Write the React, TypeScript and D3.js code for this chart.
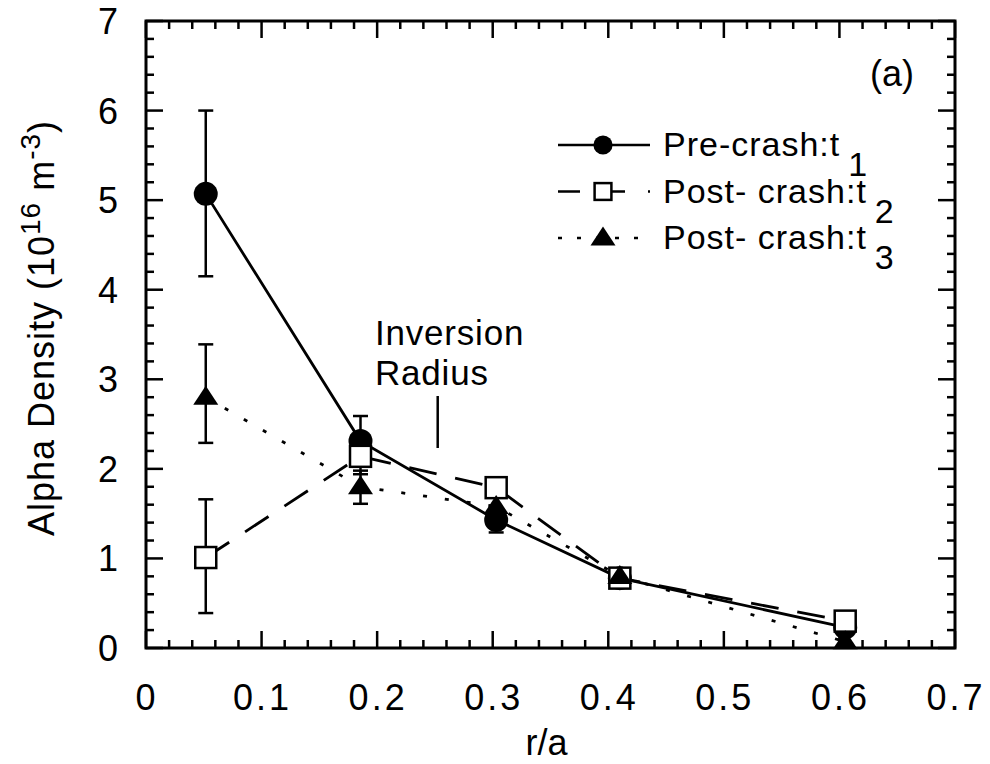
import React, { useEffect, useRef } from "react";
import * as d3 from "d3";

// r/a positions of the five measurement points
const radius = [0.0517, 0.1856, 0.303, 0.41, 0.605];
// alpha density, 10^16 m^-3
const preCrashT1 = [5.07, 2.31, 1.43, 0.78, 0.23];
const postCrashT2 = [1.01, 2.14, 1.79, 0.78, 0.3];
const postCrashT3 = [2.8, 1.8, 1.58, 0.8, 0.07];
// error bars: [r/a, low, high]
const errT1 = [
  [0.0517, 4.15, 6.0],
  [0.1856, 1.94, 2.59],
  [0.303, 1.29, 1.56],
];
const errT2 = [[0.0517, 0.39, 1.66]];
const errT3 = [
  [0.0517, 2.29, 3.39],
  [0.1856, 1.61, 1.98],
];
const inversionRadius = 0.2524;
const xTicks = [0, 0.1, 0.2, 0.3, 0.4, 0.5, 0.6, 0.7];
const yTicks = [0, 1, 2, 3, 4, 5, 6, 7];

const FONT = "'Liberation Sans', Arial, Helvetica, sans-serif";

const App: React.FC = () => {
  const ref = useRef<SVGSVGElement | null>(null);

  useEffect(() => {
    const svg = d3.select(ref.current);
    svg.selectAll("*").remove();

    const left = 146, right = 955, top = 21, bottom = 648;
    const x = d3.scaleLinear().domain([0, 0.7]).range([left, right]);
    const y = d3.scaleLinear().domain([0, 7]).range([bottom, top]);

    const g = svg.append("g").style("font-family", FONT);

    // frame
    g.append("rect")
      .attr("x", left)
      .attr("y", top)
      .attr("width", right - left)
      .attr("height", bottom - top)
      .attr("fill", "none")
      .attr("stroke", "#000")
      .attr("stroke-width", 3);

    // inward ticks on all four sides
    const xMinor = d3.range(0, 0.7001, 0.02);
    const yMinor = d3.range(0, 7.0001, 0.2);
    const isMajor = (v: number, step: number) =>
      Math.abs(v / step - Math.round(v / step)) < 1e-6;
    const ticks = g.append("g").attr("stroke", "#000").attr("stroke-width", 2.5);
    xMinor.forEach((v) => {
      const len = isMajor(v, 0.1) ? 17 : 8;
      ticks.append("line").attr("x1", x(v)).attr("x2", x(v)).attr("y1", bottom).attr("y2", bottom - len);
      ticks.append("line").attr("x1", x(v)).attr("x2", x(v)).attr("y1", top).attr("y2", top + len);
    });
    yMinor.forEach((v) => {
      const len = isMajor(v, 1) ? 17 : 8;
      ticks.append("line").attr("y1", y(v)).attr("y2", y(v)).attr("x1", left).attr("x2", left + len);
      ticks.append("line").attr("y1", y(v)).attr("y2", y(v)).attr("x1", right).attr("x2", right - len);
    });

    // tick labels
    g.append("g")
      .selectAll("text")
      .data(xTicks)
      .join("text")
      .attr("x", (d) => x(d) + 1)
      .attr("y", 710)
      .attr("text-anchor", "middle")
      .style("font-size", "36px")
      .style("letter-spacing", "3px")
      .text((d) => (d === 0 ? "0" : d.toFixed(1)));

    g.append("g")
      .selectAll("text")
      .data(yTicks)
      .join("text")
      .attr("x", 118)
      .attr("y", (d) => y(d))
      .attr("dy", "0.36em")
      .attr("text-anchor", "end")
      .style("font-size", "36px")
      .text((d) => String(d));

    // axis titles
    g.append("text")
      .attr("x", (left + right) / 2 - 4)
      .attr("y", 755)
      .attr("text-anchor", "middle")
      .style("font-size", "36px")
      .text("r/a");

    const yl = g
      .append("text")
      .attr("transform", `translate(54, 328) rotate(-90)`)
      .attr("text-anchor", "middle")
      .style("font-size", "36px")
      .style("letter-spacing", "1px");
    yl.append("tspan").text("Alpha Density (10");
    yl.append("tspan").attr("dy", -14).style("font-size", "28px").text("16");
    yl.append("tspan").attr("dy", 14).text(" m");
    yl.append("tspan").attr("dy", -14).style("font-size", "28px").text("-3");
    yl.append("tspan").attr("dy", 14).text(")");

    // annotations
    g.append("text").attr("x", 914).attr("y", 86).attr("text-anchor", "end").style("font-size", "36px").text("(a)");
    g.append("text").attr("x", 375).attr("y", 345).style("font-size", "35px").style("letter-spacing", "0.8px").text("Inversion");
    g.append("text").attr("x", 375).attr("y", 385).style("font-size", "35px").style("letter-spacing", "0.8px").text("Radius");
    g.append("line")
      .attr("x1", x(inversionRadius))
      .attr("x2", x(inversionRadius))
      .attr("y1", 396)
      .attr("y2", 448)
      .attr("stroke", "#000")
      .attr("stroke-width", 2.5);

    const series = [
      { vals: preCrashT1, dash: null as string | null, marker: "circle", err: errT1, label: "Pre-crash:t", sub: "1" },
      { vals: postCrashT2, dash: "28,19", marker: "square", err: errT2, label: "Post- crash:t", sub: "2" },
      { vals: postCrashT3, dash: "4,18", marker: "triangle", err: errT3, label: "Post- crash:t", sub: "3" },
    ];

    const line = d3
      .line<number>()
      .x((_, i) => x(radius[i]))
      .y((d) => y(d));

    series.forEach((s) => {
      g.append("path")
        .attr("d", line(s.vals)!)
        .attr("fill", "none")
        .attr("stroke", "#000")
        .attr("stroke-width", 2.8)
        .attr("stroke-dasharray", s.dash);
    });

    // error bars
    const eb = g.append("g").attr("stroke", "#000").attr("stroke-width", 2.5);
    series.forEach((s) => {
      s.err.forEach(([r, lo, hi]) => {
        eb.append("line").attr("x1", x(r)).attr("x2", x(r)).attr("y1", y(lo)).attr("y2", y(hi));
        [lo, hi].forEach((v) =>
          eb.append("line").attr("x1", x(r) - 7.5).attr("x2", x(r) + 7.5).attr("y1", y(v)).attr("y2", y(v))
        );
      });
    });

    const drawMarker = (
      parent: d3.Selection<SVGGElement, unknown, null, undefined>,
      kind: string,
      cx: number,
      cy: number,
      scale: number
    ) => {
      if (kind === "circle") {
        parent.append("circle").attr("cx", cx).attr("cy", cy).attr("r", 12 * scale).attr("fill", "#000");
      } else if (kind === "square") {
        const s = 21 * scale;
        parent
          .append("rect")
          .attr("x", cx - s / 2)
          .attr("y", cy - s / 2)
          .attr("width", s)
          .attr("height", s)
          .attr("fill", "#fff")
          .attr("stroke", "#000")
          .attr("stroke-width", 2.5);
      } else {
        const w = 25 * scale, h = 19 * scale;
        parent
          .append("path")
          .attr("d", `M${cx},${cy - h * 0.6}L${cx + w / 2},${cy + h * 0.4}L${cx - w / 2},${cy + h * 0.4}Z`)
          .attr("fill", "#000");
      }
    };

    const markers = g.append("g");
    series.forEach((s) => {
      s.vals.forEach((v, i) => drawMarker(markers, s.marker, x(radius[i]), y(v), 1));
    });

    // legend
    const legend = g.append("g");
    series.forEach((s, i) => {
      const ly = 145 + i * 46.5;
      legend
        .append("line")
        .attr("x1", 558)
        .attr("x2", 650)
        .attr("y1", ly)
        .attr("y2", ly)
        .attr("stroke", "#000")
        .attr("stroke-width", 2.5)
        .attr("stroke-dasharray", s.dash === null ? null : i === 1 ? "22,23" : "4,15");
      drawMarker(legend, s.marker, 603, ly, i === 2 ? 1 : 0.8);
      const t = legend
        .append("text")
        .attr("x", 663)
        .attr("y", ly + 11)
        .style("font-size", "34px")
        .style("letter-spacing", "1px")
        .text(s.label);
      t.append("tspan").attr("dx", 8).attr("dy", 20).text(s.sub);
    });
  }, []);

  return (
    <svg
      ref={ref}
      width={990}
      height={764}
      style={{ position: "absolute", left: 0, top: 0, background: "#fff" }}
    />
  );
};

export default App;
